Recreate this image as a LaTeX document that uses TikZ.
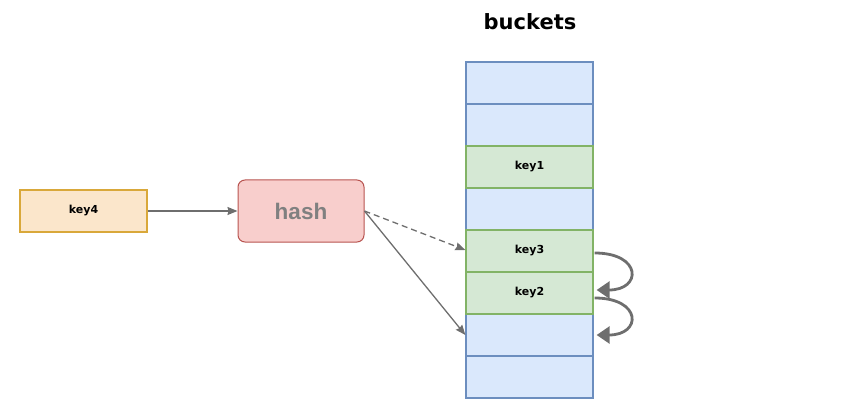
\documentclass[tikz,border=0pt]{standalone}
\usepackage{fontspec}
\setmainfont{DejaVu Sans}
\newfontfamily\hashfont{Liberation Sans}
\usetikzlibrary{arrows.meta}
\definecolor{bfill}{HTML}{DAE8FC}
\definecolor{bline}{HTML}{6C8EBF}
\definecolor{gfill}{HTML}{D5E8D4}
\definecolor{gline}{HTML}{82B366}
\definecolor{ofill}{HTML}{FBE6CB}
\definecolor{oline}{HTML}{D9A83A}
\definecolor{pfill}{HTML}{F8CECC}
\definecolor{pline}{HTML}{B85450}
\definecolor{arr}{HTML}{6E6E6E}
\begin{document}
\begin{tikzpicture}[x=1pt,y=-1pt,
  cell/.style={draw=bline,fill=bfill,line width=1.3pt,minimum width=127pt,minimum height=42pt,inner sep=0pt,font=\bfseries\fontsize{11}{13}\selectfont},
  gcell/.style={cell,draw=gline,fill=gfill},
  conn/.style={draw=arr,line width=1.3pt,-{Stealth[length=10pt,width=8pt,inset=1pt]}},
  loopar/.style={draw=arr,line width=2.8pt,-{Triangle[length=13pt,width=17pt]}}]
\useasboundingbox (0,0) rectangle (851,414);
\node[font=\bfseries\fontsize{21}{25}\selectfont] (title) at (530,22) {buckets};
\node[cell] (r1) at (529.5,83) {};
\node[cell] (r2) at (529.5,125) {};
\node[cell] (r4) at (529.5,209) {};
\node[cell] (r7) at (529.5,335) {};
\node[cell] (r8) at (529.5,377) {};
\node[gcell] (r3) at (529.5,167) {key1};
\node[gcell] (r5) at (529.5,251) {key3};
\node[gcell] (r6) at (529.5,293) {key2};
\node[draw=oline,fill=ofill,line width=1.3pt,minimum width=127pt,minimum height=42pt,font=\bfseries\fontsize{11}{13}\selectfont] (key4) at (83.5,211) {key4};
\node[draw=pline,fill=pfill,line width=1pt,rounded corners=7pt,minimum width=126pt,minimum height=62pt,text=gray,font=\hashfont\bfseries\fontsize{22.5}{26}\selectfont] (hash) at (301,211) {hash};
\draw[conn] (key4) -- (hash);
\draw[conn,dashed,dash pattern=on 6pt off 4pt] (hash.east) -- ([yshift=1pt]r5.west);
\draw[conn] (hash.east) -- (r7.west);
\draw[loopar] ([xshift=1pt,yshift=-2pt]r5.east) .. controls (642,253) and (642,290) .. ([xshift=3pt,yshift=3pt]r6.east);
\draw[loopar] ([xshift=1pt,yshift=-5pt]r6.east) .. controls (642,298) and (642,335) .. ([xshift=3pt]r7.east);
\end{tikzpicture}
\end{document}
